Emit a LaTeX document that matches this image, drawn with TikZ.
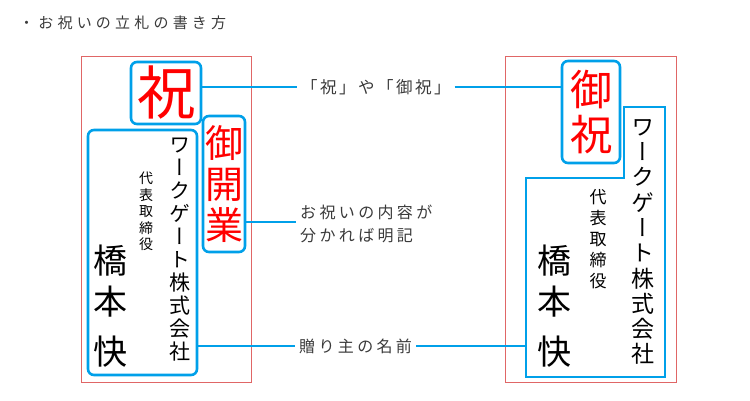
\documentclass[tikz,border=0pt]{standalone}
\usepackage{fontspec}
\setmainfont{Noto Sans CJK JP}
\newfontfamily\jp{Noto Sans CJK JP}
\newfontfamily\jpv[RawFeature=+vert]{Noto Sans CJK JP}
\newfontfamily\jpsp[LetterSpace=28]{Noto Sans CJK JP}
\newfontfamily\jpspb[LetterSpace=21]{Noto Sans CJK JP}
\newfontfamily\jpspc[LetterSpace=15]{Noto Sans CJK JP}
\definecolor{lblue}{HTML}{00A0E9}
\definecolor{rframe}{HTML}{E06666}
\definecolor{tgray}{HTML}{3A3A3A}
\begin{document}
\begin{tikzpicture}[x=1pt,y=-1pt,
  frame/.style={draw=rframe, line width=1pt, inner sep=0pt},
  hlbox/.style={draw=lblue, line width=2.6pt, rounded corners=6pt, inner sep=0pt},
  conn/.style={draw=lblue, line width=2.6pt},
  lab/.style={text=tgray, inner xsep=4pt, inner ysep=0pt, align=left},
  vcol/.style={align=center, inner sep=0pt},
  redv/.style={vcol, text=red}]
\useasboundingbox (0,0) rectangle (750,400);

% title
\node[text=tgray, anchor=west, inner sep=0pt, font=\jpsp\fontsize{15}{18}\selectfont] (title) at (19,23) {・お祝いの立札の書き方};

% frames
\node[frame, minimum width=170, minimum height=326] (fl) at (166,219) {};
\node[frame, minimum width=171, minimum height=326] (fr) at (590.5,219) {};

% ---------- left tablet ----------
\node[hlbox, minimum width=70, minimum height=62] (hl) at (166,93) {};
\node[redv, font=\jpv\fontsize{58}{60}\selectfont] (hlt) at (hl.center) {祝};
\node[hlbox, minimum width=42, minimum height=136] (hv) at (224,184) {};
\node[redv, font=\jpv\fontsize{38}{41}\selectfont] (hvt) at (hv.center) {御\\開\\業};
\node[hlbox, minimum width=109, minimum height=245] (bl) at (142.5,252.5) {};
\node[vcol, font=\jpv\fontsize{21}{23}\selectfont] (lco) at (180,250) {ワ\\ー\\ク\\ゲ\\ー\\ト\\株\\式\\会\\社};
\node[vcol, font=\jpv\fontsize{14}{16.6}\selectfont] (lti) at (146,211.5) {代\\表\\取\\締\\役};
\node[vcol, font=\jpv\fontsize{34}{41}\selectfont] (lna) at (110,306) {橋\\本\\[9pt]快};

% ---------- right tablet ----------
\node[hlbox, minimum width=58, minimum height=102] (hr) at (591,112) {};
\node[redv, font=\jpv\fontsize{42}{45}\selectfont] (hrt) at (hr.center) {御\\祝};
\draw[draw=lblue, line width=2.6pt] (624,107) -- (665,107) -- (665,377) -- (526,377) -- (526,178) -- (624,178) -- cycle;
\coordinate (brw) at (526,346);
\node[vcol, font=\jpv\fontsize{23}{25.3}\selectfont] (rco) at (643,242) {ワ\\ー\\ク\\ゲ\\ー\\ト\\株\\式\\会\\社};
\node[vcol, font=\jpv\fontsize{17}{21}\selectfont] (rti) at (598,239.5) {代\\表\\取\\締\\役};
\node[vcol, font=\jpv\fontsize{34}{41}\selectfont] (rna) at (554,306) {橋\\本\\[9pt]快};

% ---------- labels ----------
\node[lab, anchor=west, font=\jpspc\fontsize{16.5}{18}\selectfont] (l1) at (297,87) {「祝」や「御祝」};
\node[lab, anchor=west, font=\jpspb\fontsize{16}{23}\selectfont] (l2) at (296,224) {お祝いの内容が\\分かれば明記};
\node[lab, anchor=west, font=\jpspb\fontsize{16}{18}\selectfont] (l3) at (295,346) {贈り主の名前};

% ---------- connectors ----------
\draw[conn] (l1.west -| hl.east) -- (l1.west);
\draw[conn] (l1.east) -- (l1.east -| hr.west);
\draw[conn] ([yshift=2pt]l2.west -| hv.east) -- ([yshift=2pt]l2.west);
\draw[conn] (l3.west -| bl.east) -- (l3.west);
\draw[conn] (l3.east) -- (brw);
\end{tikzpicture}
\end{document}
